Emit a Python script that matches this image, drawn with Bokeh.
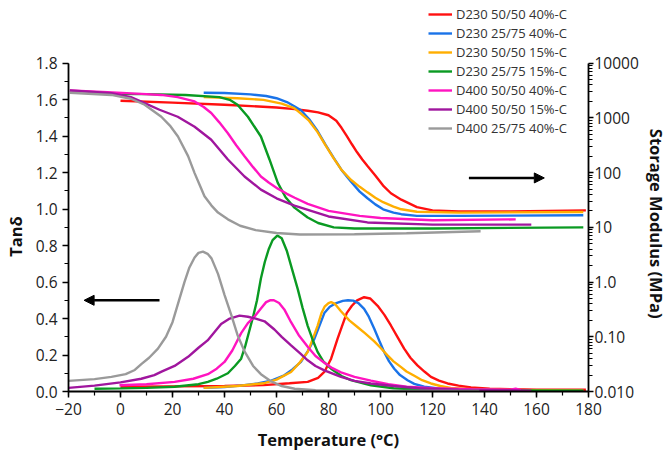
import math
from bokeh.plotting import figure
from bokeh.models import (Range1d, LogAxis, LogScale, FixedTicker, SingleIntervalTicker,
                          NumeralTickFormatter, CustomJSTickFormatter, Arrow, NormalHead,
                          Legend, LegendItem)
from bokeh.embed import file_html
from bokeh.resources import INLINE

# ---------------- data ----------------
names = ["D230 50/50 40%-C", "D230 25/75 40%-C", "D230 50/50 15%-C", "D230 25/75 15%-C",
         "D400 50/50 40%-C", "D400 50/50 15%-C", "D400 25/75 40%-C"]
colors = ["#ff1010", "#1a73e8", "#ffae00", "#0a9a22", "#ff14c0", "#a0169e", "#9a9a9a"]

# storage modulus (MPa)
red_mod_T = [0, 20, 40, 60, 67, 72, 76, 80, 83, 85, 87, 89, 91, 93, 95, 98, 101, 104, 108, 114, 120, 130, 150, 179]
red_mod = [2065, 1905, 1740, 1550, 1445, 1350, 1260, 1120, 890, 660, 470, 330, 235, 174, 132, 89, 58, 42, 32, 23.4, 20.4, 19.5, 19.5, 20.4]
blue_mod_T = [32, 40, 50, 56, 60, 64, 67, 69.4, 72.5, 75.8, 79, 82, 85, 88.6, 92, 95, 98, 101, 105, 108, 114, 130, 178]
blue_mod = [2885, 2850, 2690, 2510, 2290, 1950, 1620, 1380, 955, 575, 316, 186, 112, 69, 45, 34, 26.3, 21.4, 18.6, 17.4, 16.2, 16.2, 16.6]
orange_mod_T = [32, 45, 55, 62, 66.8, 69.4, 72.5, 75.8, 79, 82, 85, 88.6, 92, 95, 98, 101, 105, 108, 114, 130, 178]
orange_mod = [2400, 2290, 2140, 1820, 1510, 1200, 890, 550, 309, 182, 112, 74, 55, 43.6, 34.7, 28.8, 24, 21.4, 19.3, 18.6, 19.1]
green_mod_T = [-9, 10, 25, 38, 42, 45, 49, 54, 57.3, 60.5, 63.5, 66.9, 72, 76, 82, 90, 120, 178]
green_mod = [2750, 2720, 2630, 2400, 2140, 1740, 1050, 457, 174, 65, 35.5, 22.9, 15.1, 12, 10, 9.55, 9.55, 10]
pink_mod_T = [-19.5, -5, 8, 15.7, 22, 28.5, 32, 34.9, 38, 41.3, 44.5, 47.7, 51, 54, 57, 60.5, 64, 67, 72, 80, 92, 100, 120, 152]
pink_mod = [3160, 2950, 2750, 2630, 2400, 2000, 1585, 1230, 830, 525, 316, 200, 126, 85, 66, 51, 41, 34.7, 26.9, 20, 16.2, 14.8, 13.5, 14]
purple_mod_T = [-19.5, -3.5, 4, 9.3, 15, 22, 28.5, 34.9, 41.3, 47.7, 54, 60, 66.9, 73.3, 80, 95, 120, 158]
purple_mod = [3160, 2820, 2400, 1860, 1410, 1050, 690, 400, 174, 85, 49, 34, 25, 20, 15.8, 12.3, 11.2, 11.2]
gray_mod_T = [-19.5, -3.5, 4, 9.3, 15.7, 19, 22.1, 26, 28.5, 30.5, 32.3, 35, 37.5, 41.3, 46, 52, 60, 69, 90, 110, 138.5]
gray_mod = [2885, 2630, 2240, 1740, 1050, 725, 457, 200, 98, 59, 37, 25, 18.6, 14, 10.7, 8.9, 7.9, 7.4, 7.5, 7.8, 8.5]

# tan delta
red_tan_T = [0, 20, 40, 55, 65, 72, 76, 78.4, 81, 83.5, 85, 87, 89, 91, 93.7, 96, 98.9, 101.5, 104, 106.5, 109.1, 111.5, 114.2, 117, 119.4, 122.5, 125.8, 130, 134.8, 142, 150, 160, 179]
red_tan = [0.026, 0.028, 0.03, 0.035, 0.045, 0.053, 0.075, 0.107, 0.18, 0.29, 0.35, 0.43, 0.47, 0.50, 0.517, 0.51, 0.47, 0.42, 0.362, 0.30, 0.235, 0.185, 0.143, 0.108, 0.08, 0.06, 0.044, 0.032, 0.022, 0.015, 0.012, 0.01, 0.01]
blue_tan_T = [32, 40, 46, 52.8, 58, 63, 66, 69.4, 72, 74.6, 76.5, 78.4, 80.5, 83, 85.5, 87.5, 89.5, 91.5, 93.7, 95.5, 97.6, 99.5, 101.4, 103.3, 105.3, 107.5, 110.4, 113, 116.8, 123, 140, 178]
blue_tan = [0.02, 0.025, 0.032, 0.044, 0.06, 0.089, 0.12, 0.162, 0.22, 0.29, 0.36, 0.43, 0.465, 0.485, 0.497, 0.50, 0.498, 0.485, 0.453, 0.41, 0.344, 0.28, 0.217, 0.165, 0.125, 0.09, 0.062, 0.042, 0.026, 0.016, 0.008, 0.005]
orange_tan_T = [32, 45, 55, 60, 65.6, 69, 72, 74, 75.8, 77.3, 78.5, 80, 81, 82.5, 84.8, 88, 91, 94, 97.6, 100, 102.7, 105, 107.8, 110, 113, 116, 119.4, 123, 127, 135, 150, 178]
orange_tan = [0.02, 0.03, 0.045, 0.065, 0.107, 0.16, 0.217, 0.29, 0.36, 0.43, 0.465, 0.485, 0.49, 0.48, 0.44, 0.39, 0.355, 0.32, 0.275, 0.24, 0.198, 0.165, 0.135, 0.11, 0.086, 0.062, 0.044, 0.03, 0.02, 0.012, 0.008, 0.006]
green_tan_T = [-10, 0, 10, 20.8, 30, 33.6, 37, 41.3, 44, 46.4, 48, 49.5, 51, 52.5, 54, 55.5, 57, 58.5, 60.3, 62, 64, 66, 68.2, 70, 72, 74, 75.8, 78, 81, 85, 88.6, 96.3, 105, 115, 130, 178]
green_tan = [0.015, 0.017, 0.02, 0.026, 0.04, 0.053, 0.07, 0.10, 0.14, 0.18, 0.25, 0.33, 0.41, 0.50, 0.62, 0.71, 0.78, 0.83, 0.855, 0.84, 0.77, 0.67, 0.56, 0.46, 0.36, 0.28, 0.217, 0.165, 0.125, 0.085, 0.062, 0.034, 0.018, 0.01, 0.006, 0.004]
pink_tan_T = [-0.4, 10, 20.8, 28, 33.6, 37, 40, 43, 46.4, 49, 51.5, 54, 56, 57.5, 59, 61, 63, 65.6, 68.5, 72, 75, 78.4, 81.5, 84.8, 90, 96.3, 103, 110, 120, 135, 150, 152, 154]
pink_tan = [0.034, 0.04, 0.053, 0.07, 0.095, 0.125, 0.162, 0.225, 0.32, 0.375, 0.41, 0.455, 0.49, 0.50, 0.50, 0.485, 0.45, 0.38, 0.31, 0.245, 0.195, 0.158, 0.128, 0.105, 0.08, 0.06, 0.04, 0.027, 0.018, 0.012, 0.01, 0.016, 0.008]
purple_tan_T = [-20, -10, 0, 8, 13, 16, 20.8, 26, 30, 33.5, 38.7, 42, 45.8, 49, 52, 55.4, 59.2, 62, 65.6, 69, 72, 75, 78.4, 84.8, 90, 96.3, 105, 115, 130, 158]
purple_tan = [0.02, 0.032, 0.05, 0.07, 0.09, 0.11, 0.14, 0.19, 0.24, 0.28, 0.37, 0.40, 0.416, 0.41, 0.40, 0.385, 0.34, 0.30, 0.253, 0.21, 0.171, 0.14, 0.116, 0.08, 0.058, 0.044, 0.03, 0.018, 0.01, 0.005]
gray_tan_T = [-20, -10, -3.5, 2, 5.5, 8, 11, 14.4, 17.5, 20, 22.5, 24.6, 26.5, 28.5, 30, 31.7, 33.5, 35, 37.5, 40, 42.6, 45, 47.7, 51, 54, 58, 62, 67, 75, 90, 110, 138]
gray_tan = [0.058, 0.068, 0.08, 0.095, 0.118, 0.15, 0.185, 0.235, 0.30, 0.38, 0.50, 0.60, 0.68, 0.735, 0.76, 0.767, 0.755, 0.73, 0.645, 0.53, 0.42, 0.31, 0.22, 0.14, 0.095, 0.055, 0.03, 0.015, 0.007, 0.004, 0.003, 0.003]

mod_ticks = [0.01, 0.1, 1, 10, 100, 1000, 10000]
mod_labels = ["0.010", "0.10", "1.0", "10", "100", "1000", "10000"]

# arrows: (x_start, x_end, y) ; left one on tan axis, right one on modulus axis
left_arrow = (15, -14, 0.5)
right_arrow = (134, 163, 80)

mod_T = [red_mod_T, blue_mod_T, orange_mod_T, green_mod_T, pink_mod_T, purple_mod_T, gray_mod_T]
mod_v = [red_mod, blue_mod, orange_mod, green_mod, pink_mod, purple_mod, gray_mod]
tan_T = [red_tan_T, blue_tan_T, orange_tan_T, green_tan_T, pink_tan_T, purple_tan_T, gray_tan_T]
tan_v = [red_tan, blue_tan, orange_tan, green_tan, pink_tan, purple_tan, gray_tan]

# ---------------- layout ----------------
# axes span pixel rows 63..393; the frame extends up to row 4 so that the
# legend (which sits above the axes' top) is not clipped.
AX_TOP, AX_BOT, FR_TOP = 63, 393, 4
ext = (AX_BOT - FR_TOP) / (AX_BOT - AX_TOP)
tan_top = 1.8 * ext
mod_top = 10 ** (-2 + 6 * ext)
NB = "\u00a0"  # pads the vertical axis titles so they sit at the middle of the drawn axes

FONT = "Open Sans"
p = figure(width=671, height=453, x_range=Range1d(-20, 180), y_range=Range1d(0, tan_top),
           output_backend="svg", toolbar_location=None,
           min_border_left=67, min_border_right=83, min_border_top=FR_TOP, min_border_bottom=60)
p.extra_y_ranges = {"mod": Range1d(0.01, mod_top)}
p.extra_y_scales = {"mod": LogScale()}
p.outline_line_color = None
p.xgrid.visible = False
p.ygrid.visible = False
p.background_fill_color = "white"
p.border_fill_color = "white"

rax = LogAxis(y_range_name="mod", bounds=(0.01, 10000))
p.add_layout(rax, "right")

for ax in [p.xaxis[0], p.yaxis[0], rax]:
    ax.axis_line_color = "black"
    ax.axis_line_width = 1.8
    ax.major_tick_line_color = "black"
    ax.minor_tick_line_color = "black"
    ax.major_tick_line_width = 1.5
    ax.minor_tick_line_width = 1.2
    ax.major_tick_out = 6
    ax.major_tick_in = 0
    ax.minor_tick_out = 4
    ax.minor_tick_in = 0
    ax.major_label_text_font = FONT
    ax.major_label_text_font_size = "15.5px"
    ax.major_label_text_color = "#222222"
    ax.axis_label_text_font = FONT
    ax.axis_label_text_font_size = "16.5px"
    ax.axis_label_text_font_style = "bold"
    ax.axis_label_text_color = "#111111"

p.xaxis[0].ticker = SingleIntervalTicker(interval=20, num_minor_ticks=2)
p.xaxis[0].axis_label = "Temperature (°C)"
p.xaxis[0].axis_label_standoff = 10
p.yaxis[0].ticker = SingleIntervalTicker(interval=0.2, num_minor_ticks=2)
p.yaxis[0].formatter = NumeralTickFormatter(format="0.0")
p.yaxis[0].bounds = (0, 1.8)
p.yaxis[0].axis_label = "Tanδ" + NB * 18
p.yaxis[0].axis_label_standoff = 6

minor = [k * t for t in mod_ticks[:-1] for k in range(2, 10)]
rax.ticker = FixedTicker(ticks=mod_ticks, minor_ticks=minor)
rax.formatter = CustomJSTickFormatter(args=dict(mt=mod_ticks, ml=mod_labels), code="""
    for (let i = 0; i < mt.length; i++) {
        if (Math.abs(Math.log10(tick) - Math.log10(mt[i])) < 1e-6) return ml[i];
    }
    return "";
""")
rax.axis_label = NB * 12 + "Storage Modulus (MPa)"
rax.major_tick_out = 5
rax.major_label_standoff = 1
rax.axis_label_standoff = 3

items = []
for i in range(7):
    r = p.line(mod_T[i], mod_v[i], color=colors[i], line_width=2.4, y_range_name="mod")
    p.line(tan_T[i], tan_v[i], color=colors[i], line_width=2.4)
    items.append(LegendItem(label=names[i], renderers=[r]))

legend = Legend(items=items, location=(360, 254), border_line_color=None,
                background_fill_alpha=0, padding=0, margin=0, spacing=1,
                glyph_width=24, glyph_height=16, label_height=16, label_standoff=4,
                label_text_font=FONT, label_text_font_size="13px", label_text_color="#333333")
p.add_layout(legend)

p.add_layout(Arrow(end=NormalHead(size=10, fill_color="black", line_color="black"),
                   x_start=left_arrow[0], x_end=left_arrow[1], y_start=left_arrow[2], y_end=left_arrow[2],
                   line_color="black", line_width=2.5))
p.add_layout(Arrow(end=NormalHead(size=10, fill_color="black", line_color="black"),
                   x_start=right_arrow[0], x_end=right_arrow[1], y_start=right_arrow[2], y_end=right_arrow[2],
                   line_color="black", line_width=2.5, y_range_name="mod"))

open("out.html", "w").write(file_html(p, INLINE))
